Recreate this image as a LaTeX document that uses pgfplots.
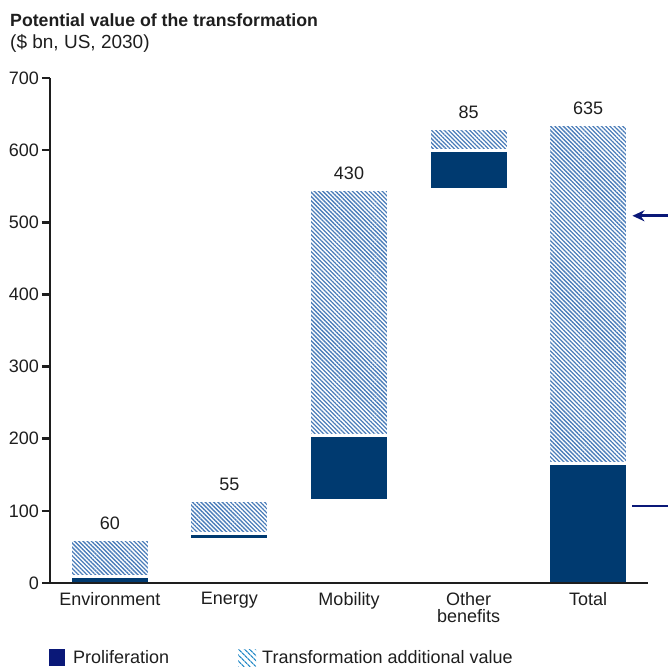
\documentclass[border=0pt]{standalone}
\usepackage{pgfplots}
\pgfplotsset{compat=1.18}
\usepackage{fontspec}
\setmainfont{Liberation Sans}
\usetikzlibrary{patterns.meta,arrows.meta}
\definecolor{prolif}{RGB}{0,58,112}
\definecolor{hatch}{RGB}{75,125,185}
\definecolor{hatchleg}{RGB}{40,140,200}
\definecolor{navy}{RGB}{10,24,120}
\definecolor{txt}{RGB}{30,30,30}
\begin{document}
\begin{tikzpicture}
\useasboundingbox (0,0) rectangle (668pt,666pt);
\node[anchor=base west, inner sep=0pt, text=txt, font=\fontsize{17.7}{20}\selectfont\bfseries] at (10pt,639pt) {Potential value of the transformation};
\node[anchor=base west, inner sep=0pt, text=txt, font=\fontsize{19}{20}\selectfont] at (10pt,617.5pt) {(\$ bn, US, 2030)};
\begin{axis}[
  at={(50pt,83pt)}, anchor=south west,
  scale only axis, width=598pt, height=505pt,
  xmin=-0.5, xmax=4.5, ymin=0, ymax=700,
  axis lines=left, axis line style={-, line width=2.5pt, color=txt},
  ytick={0,100,...,700},
  xtick={0,1,2,3,4},
  xticklabels={Environment,Energy,Mobility,{Other\\benefits},Total},
  tick style={line width=2.5pt, color=txt},
  major tick length=8pt, tick align=outside,
  xtick style={draw=none},
  /pgf/number format/assume math mode=true,
  tick label style={font=\fontsize{18}{17.6}\selectfont, text=txt},
  yticklabel style={anchor=east, inner sep=0pt, xshift=-3pt},
  xticklabel style={align=center, anchor=north, inner sep=0pt, yshift=-1pt},
  ybar stacked, bar width=79pt,
  clip=false, axis on top,
]
\addplot[draw=none, fill=none] coordinates {(0,0) (1,60) (2,115) (3,545) (4,0)};
\addplot[fill=prolif, draw=white, line width=3pt] coordinates {(0,9) (1,9) (2,89) (3,55) (4,165)};
\addplot[pattern={Lines[angle=-45,distance=3pt,line width=1.3pt]}, pattern color=hatch, draw=white, line width=3pt] coordinates {(0,51) (1,46) (2,341) (3,30) (4,470)};
\node[anchor=base, text=txt, font=\fontsize{18}{20}\selectfont, yshift=10pt] at (axis cs:0,60) {60};
\node[anchor=base, text=txt, font=\fontsize{18}{20}\selectfont, yshift=10pt] at (axis cs:1,115) {55};
\node[anchor=base, text=txt, font=\fontsize{18}{20}\selectfont, yshift=10pt] at (axis cs:2,545) {430};
\node[anchor=base, text=txt, font=\fontsize{18}{20}\selectfont, yshift=10pt] at (axis cs:3,630) {85};
\node[anchor=base, text=txt, font=\fontsize{18}{20}\selectfont, yshift=10pt] at (axis cs:4,635) {635};
\draw[navy, line width=2.6pt, -{Stealth[length=12pt,width=11pt]}] (axis cs:4.70,509) -- (axis cs:4.37,509);
\draw[navy, line width=2.6pt] (axis cs:4.70,107) -- (axis cs:4.37,107);
\end{axis}
\fill[navy] (49pt,0pt) rectangle (65pt,17pt);
\node[anchor=base west, inner sep=0pt, text=txt, font=\fontsize{18}{20}\selectfont] at (73pt,2.5pt) {Proliferation};
\fill[pattern={Lines[angle=-45,distance=4pt,line width=1.4pt]}, pattern color=hatchleg] (238pt,0pt) rectangle (256pt,17pt);
\node[anchor=base west, inner sep=0pt, text=txt, font=\fontsize{18}{20}\selectfont] at (262pt,2.5pt) {Transformation additional value};
\end{tikzpicture}
\end{document}
